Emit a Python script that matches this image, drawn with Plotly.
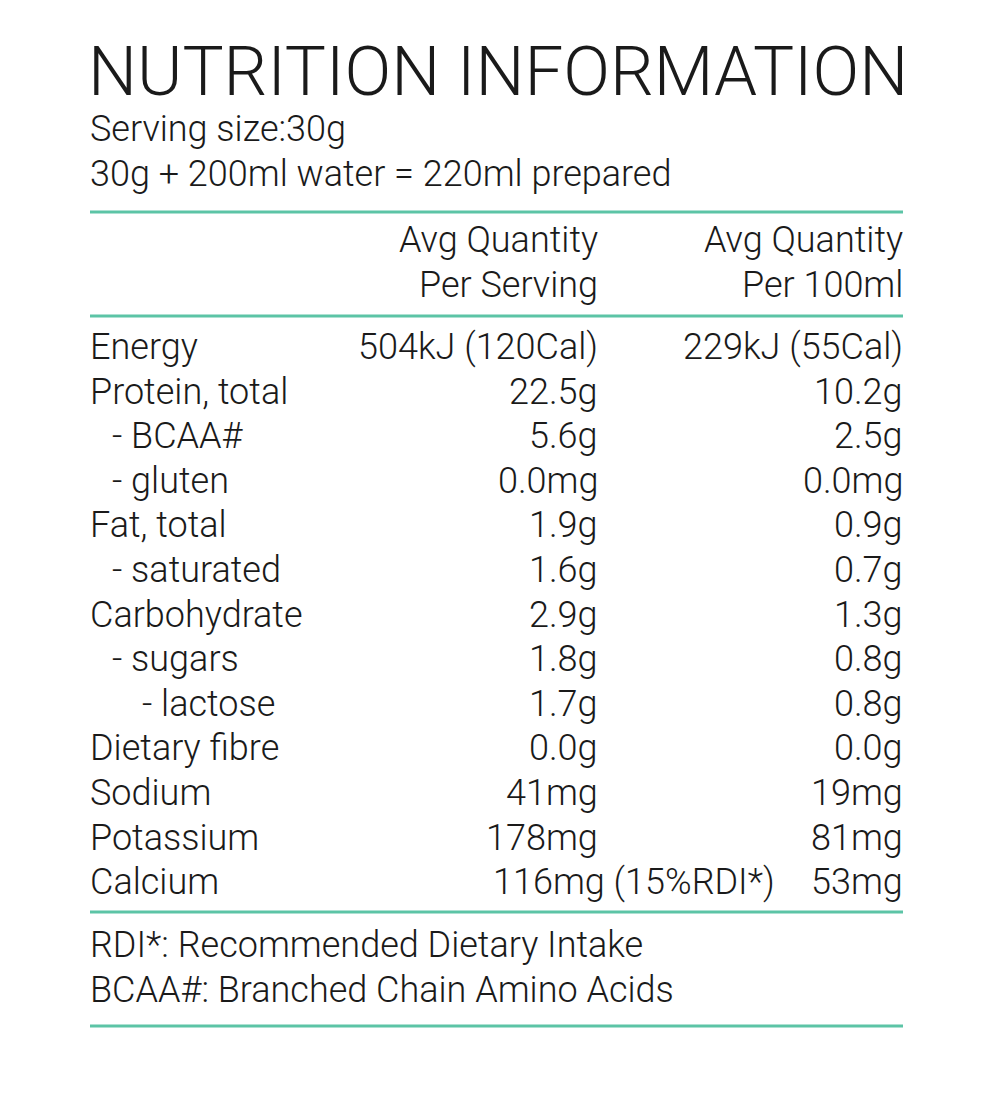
import plotly.graph_objects as go

title = "NUTRITION INFORMATION"
serving_lines = ["Serving size:30g", "30g + 200ml water = 220ml prepared"]
col_headers = [["Avg Quantity", "Per Serving"], ["Avg Quantity", "Per 100ml"]]
nutrients = ["Energy", "Protein, total", "- BCAA#", "- gluten", "Fat, total",
             "- saturated", "Carbohydrate", "- sugars", "- lactose",
             "Dietary fibre", "Sodium", "Potassium", "Calcium"]
indent = [0, 0, 1, 1, 0, 1, 0, 1, 2, 0, 0, 0, 0]
per_serving = ["504kJ (120Cal)", "22.5g", "5.6g", "0.0mg", "1.9g", "1.6g",
               "2.9g", "1.8g", "1.7g", "0.0g", "41mg", "178mg", "116mg (15%RDI*)"]
per_100ml = ["229kJ (55Cal)", "10.2g", "2.5g", "0.0mg", "0.9g", "0.7g",
             "1.3g", "0.8g", "0.8g", "0.0g", "19mg", "81mg", "53mg"]
footnotes = ["RDI*: Recommended Dietary Intake", "BCAA#: Branched Chain Amino Acids"]

W, H = 1000, 1114
OFF = 8  # page body margin shifts everything by this much
FONT = "Roboto"
TEAL = "#5cc4a6"
INK = "#1a1a1a"


def px(x, y):
    return (x - OFF) / W, 1 - (y - OFF) / H


fig = go.Figure()
ann = []


def text(s, x, y, size=36, anchor="left"):
    xp, yp = px(x, y)
    ann.append(dict(text=s, x=xp, y=yp, xref="paper", yref="paper",
                    xanchor=anchor, yanchor="middle", showarrow=False,
                    font=dict(family=FONT, size=size, color=INK, weight=300)))


text(title, 86, 72, size=69)
for i, s in enumerate(serving_lines):
    text(s, 88, 129 + i * 45)

col_right = [600, 905]
for c, hdr in enumerate(col_headers):
    for i, s in enumerate(hdr):
        text(s, col_right[c], 240 + i * 45, anchor="right")

row0, step = 347, 44.6
for i, name in enumerate(nutrients):
    y = row0 + i * step
    text(name, 88 + indent[i] * 22 + (8 if indent[i] == 2 else 0), y)
    # the calcium per-serving value carries an RDI note that spills past the column
    x1 = 777 if "RDI" in per_serving[i] else col_right[0]
    text(per_serving[i], x1, y, anchor="right")
    text(per_100ml[i], col_right[1], y, anchor="right")

for i, s in enumerate(footnotes):
    text(s, 88, 945 + i * 45)

for y in [212, 316, 912, 1026]:
    x0, yp = px(90, y)
    x1, _ = px(903, y)
    fig.add_shape(type="line", xref="paper", yref="paper", x0=x0, x1=x1,
                  y0=yp, y1=yp, line=dict(color=TEAL, width=3))

fig.update_layout(width=W, height=H, margin=dict(l=0, r=0, t=0, b=0),
                  paper_bgcolor="white", plot_bgcolor="white",
                  xaxis=dict(visible=False), yaxis=dict(visible=False),
                  annotations=ann, showlegend=False)
fig.write_html("out.html")
